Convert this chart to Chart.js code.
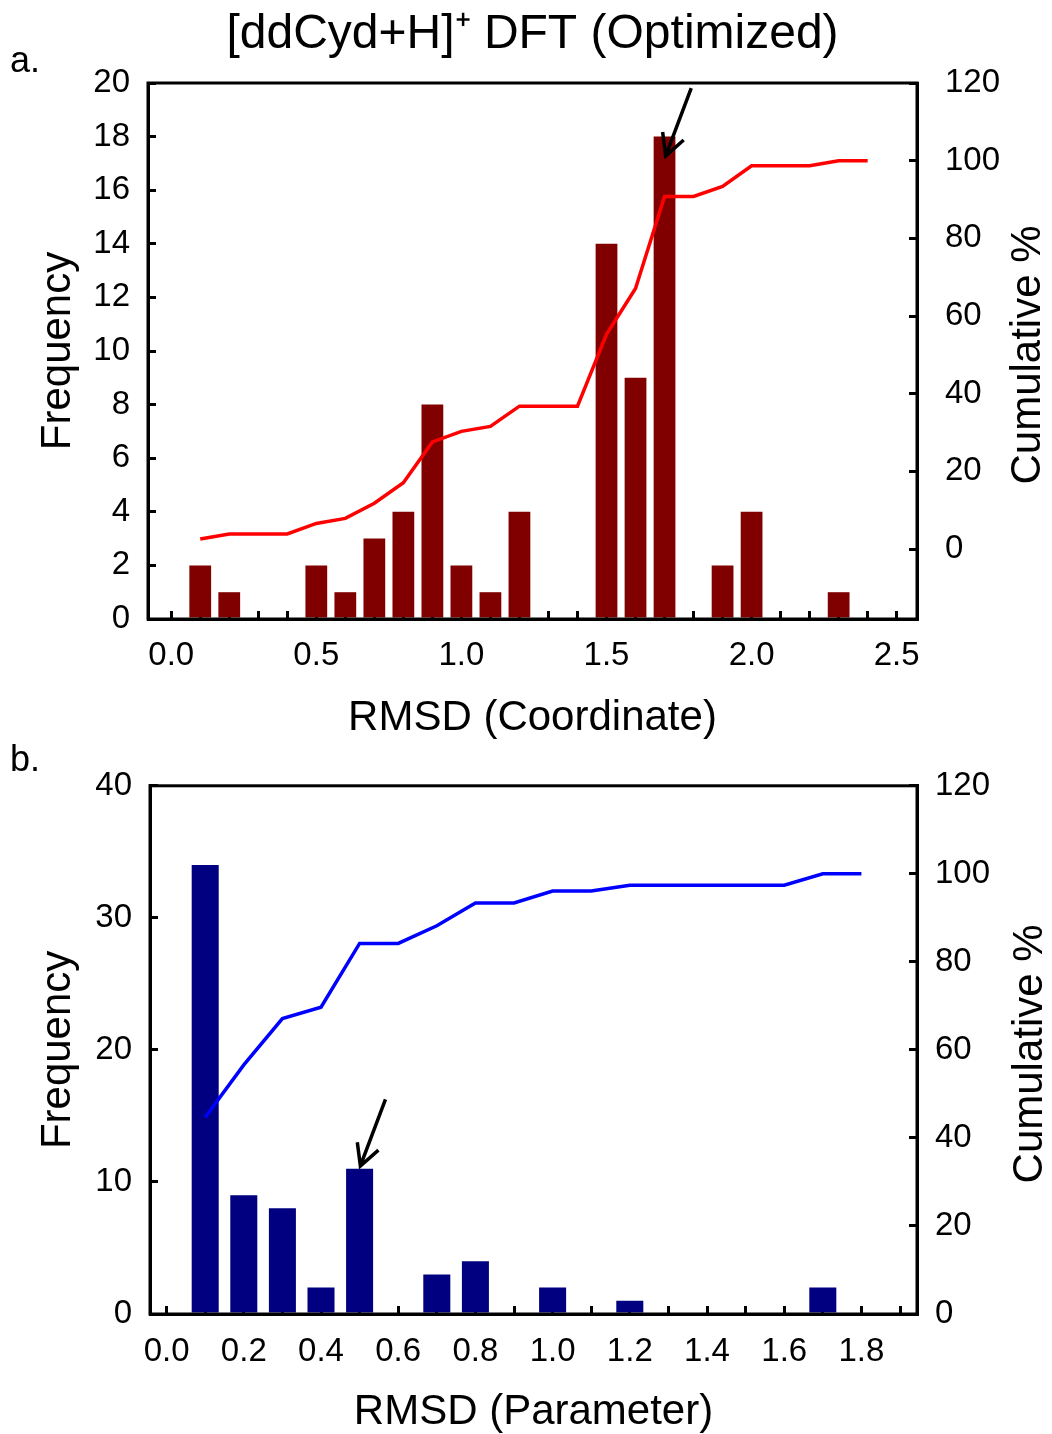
<!DOCTYPE html>
<html>
<head>
<meta charset="utf-8">
<script src="https://cdn.jsdelivr.net/npm/chart.js@4.4.1/dist/chart.umd.min.js"></script>
<style>
  body { margin: 0; background: #fff; }
  .panel { position: absolute; left: 0; width: 1052px; }
  #panelA { top: 0; height: 740px; }
  #panelB { top: 740px; height: 694px; }
</style>
</head>
<body>
<div class="panel" id="panelA"><canvas id="chartA" width="1052" height="740"></canvas></div>
<div class="panel" id="panelB"><canvas id="chartB" width="1052" height="694"></canvas></div>
<script>
// panel a - RMSD (Coordinate)
const rmsdA = [0.1, 0.2, 0.3, 0.4, 0.5, 0.6, 0.7, 0.8, 0.9, 1.0, 1.1, 1.2,
               1.3, 1.4, 1.5, 1.6, 1.7, 1.8, 1.9, 2.0, 2.1, 2.2, 2.3, 2.4];
const freqA = [2, 1, 0, 0, 2, 1, 3, 4, 8, 2, 1, 4, 0, 0, 14, 9, 18, 0, 2, 4, 0, 0, 1, 0];
const cumA  = [2.6, 3.9, 3.9, 3.9, 6.6, 7.9, 11.8, 17.1, 27.6, 30.3, 31.6, 36.8,
               36.8, 36.8, 55.3, 67.1, 90.8, 90.8, 93.4, 98.7, 98.7, 98.7, 100, 100];

// panel b - RMSD (Parameter)
const rmsdB = [0.1, 0.2, 0.3, 0.4, 0.5, 0.6, 0.7, 0.8, 0.9, 1.0, 1.1, 1.2,
               1.3, 1.4, 1.5, 1.6, 1.7, 1.8];
const freqB = [34, 9, 8, 2, 11, 0, 3, 4, 0, 2, 0, 1, 0, 0, 0, 0, 2, 0];
const cumB  = [44.7, 56.6, 67.1, 69.7, 84.2, 84.2, 88.2, 93.4, 93.4, 96.1, 96.1, 97.4,
               97.4, 97.4, 97.4, 97.4, 100, 100];

const FONT = '"Liberation Sans", Arial, sans-serif';
Chart.defaults.font.family = FONT;
Chart.defaults.color = '#000';

// frame, arrow, right axis title and panel letter
const extras = {
  id: 'extras',
  afterDraw(chart, args, opts) {
    const ctx = chart.ctx;
    const a = chart.chartArea;
    ctx.save();
    ctx.strokeStyle = '#000';
    ctx.lineWidth = 3;
    ctx.strokeRect(a.left, a.top, a.right - a.left, a.bottom - a.top);

    // arrow pointing at the selected bar
    const sx = chart.scales.x, sy = chart.scales.y;
    const x0 = sx.getPixelForValue(opts.arrow.from[0]), y0 = sy.getPixelForValue(opts.arrow.from[1]);
    const x1 = sx.getPixelForValue(opts.arrow.to[0]), y1 = sy.getPixelForValue(opts.arrow.to[1]);
    const ang = Math.atan2(y0 - y1, x0 - x1);
    const head = 24, spread = 28 * Math.PI / 180;
    ctx.lineWidth = 3.5;
    ctx.lineCap = 'butt';
    ctx.lineJoin = 'miter';
    ctx.beginPath();
    ctx.moveTo(x0, y0);
    ctx.lineTo(x1, y1);
    ctx.moveTo(x1 + head * Math.cos(ang - spread), y1 + head * Math.sin(ang - spread));
    ctx.lineTo(x1, y1);
    ctx.lineTo(x1 + head * Math.cos(ang + spread), y1 + head * Math.sin(ang + spread));
    ctx.stroke();

    ctx.fillStyle = '#000';
    ctx.font = '42px ' + FONT;
    ctx.textAlign = 'center';
    ctx.textBaseline = 'middle';
    ctx.save();
    ctx.translate(opts.rightTitleX, (a.top + a.bottom) / 2 + 4);
    ctx.rotate(-Math.PI / 2);
    ctx.fillText('Cumulative %', 0, 0);
    ctx.restore();

    ctx.font = '36px ' + FONT;
    ctx.textAlign = 'left';
    ctx.textBaseline = 'alphabetic';
    ctx.fillText(opts.letter, 10, opts.letterY);
    ctx.restore();
  }
};

function tickGrid() {
  return {
    display: true,
    drawOnChartArea: false,
    drawTicks: true,
    tickLength: -8,
    tickWidth: 3,
    tickColor: '#000',
    color: '#000',
    lineWidth: 3,
    offset: false
  };
}

function makeChart(id, p) {
  return new Chart(document.getElementById(id), {
    type: 'bar',
    data: {
      datasets: [
        {
          type: 'line',
          label: 'Cumulative %',
          data: p.xs.map((x, i) => ({ x: x, y: p.cum[i] })),
          borderColor: p.lineColor,
          borderWidth: 3.5,
          pointRadius: 0,
          tension: 0,
          fill: false,
          yAxisID: 'y2',
          order: 0
        },
        {
          type: 'bar',
          label: 'Frequency',
          data: p.xs.map((x, i) => ({ x: x, y: p.freq[i] })),
          backgroundColor: p.barColor,
          borderWidth: 0,
          barPercentage: p.barPct,
          categoryPercentage: 1,
          yAxisID: 'y',
          order: 1
        }
      ]
    },
    options: {
      responsive: false,
      animation: false,
      layout: { padding: { top: p.padTop, left: 0, right: 0, bottom: 0 } },
      plugins: {
        legend: { display: false },
        tooltip: { enabled: false },
        title: p.title,
        extras: p.extras
      },
      scales: {
        x: {
          type: 'linear',
          position: 'bottom',
          min: p.xMin,
          max: p.xMax,
          offset: false,
          afterFit: s => { s.height = p.xHeight; },
          border: { display: true, color: '#000', width: 3 },
          grid: tickGrid(),
          ticks: {
            stepSize: 0.1,
            includeBounds: false,
            autoSkip: false,
            maxRotation: 0,
            padding: p.xPad,
            color: '#000',
            font: { size: 33 },
            callback: v => Math.round(v * 10) % p.labelEvery === 0 ? (Math.round(v * 10) / 10).toFixed(1) : ''
          },
          title: {
            display: true,
            text: p.xTitle,
            color: '#000',
            font: { size: 42, lineHeight: 1.05 },
            padding: { top: 0, bottom: 0 }
          }
        },
        y: {
          position: 'left',
          min: 0,
          max: p.yMax,
          afterFit: s => { s.width = p.leftWidth; },
          border: { display: true, color: '#000', width: 3 },
          grid: tickGrid(),
          ticks: { stepSize: p.yStep, padding: 26, color: '#000', font: { size: 33 } },
          title: {
            display: true,
            text: 'Frequency',
            color: '#000',
            font: { size: 42, lineHeight: 1.05 },
            padding: { top: 36, bottom: 0 }
          }
        },
        y2: {
          position: 'right',
          min: p.y2Min,
          max: 120,
          afterFit: s => { s.width = 1052 - p.rightEdge; },
          border: { display: true, color: '#000', width: 3 },
          grid: tickGrid(),
          ticks: { stepSize: 20, includeBounds: false, padding: p.y2Pad, color: '#000', font: { size: 33 } }
        }
      }
    },
    plugins: [extras]
  });
}

makeChart('chartA', {
  xs: rmsdA, freq: freqA, cum: cumA,
  barColor: '#800000', lineColor: '#ff0000', barPct: 0.75,
  xMin: -0.08, xMax: 2.57, labelEvery: 5, xTitle: 'RMSD (Coordinate)',
  yMax: 20, yStep: 2, y2Min: -18,
  padTop: 0, xHeight: 121, xPad: 25, leftWidth: 148, rightEdge: 917, y2Pad: 36,
  title: {
    display: true,
    text: '[ddCyd+H]\u207A DFT (Optimized)',
    color: '#000',
    fullSize: false,
    font: { size: 48, weight: 'normal' },
    padding: { top: 6, bottom: 19.4 }
  },
  extras: { arrow: { from: [1.792, 19.81], to: [1.704, 17.28] }, rightTitleX: 1028, letter: 'a.', letterY: 72 }
});

makeChart('chartB', {
  xs: rmsdB, freq: freqB, cum: cumB,
  barColor: '#000080', lineColor: '#0000ff', barPct: 0.70,
  xMin: -0.043, xMax: 1.944, labelEvery: 2, xTitle: 'RMSD (Parameter)',
  yMax: 40, yStep: 10, y2Min: 0,
  padTop: 40, xHeight: 120, xPad: 26, leftWidth: 150, rightEdge: 917, y2Pad: 26,
  title: { display: false },
  extras: { arrow: { from: [0.567, 16.25], to: [0.502, 11.21] }, rightTitleX: 1030, letter: 'b.', letterY: 31 }
});
</script>
</body>
</html>
